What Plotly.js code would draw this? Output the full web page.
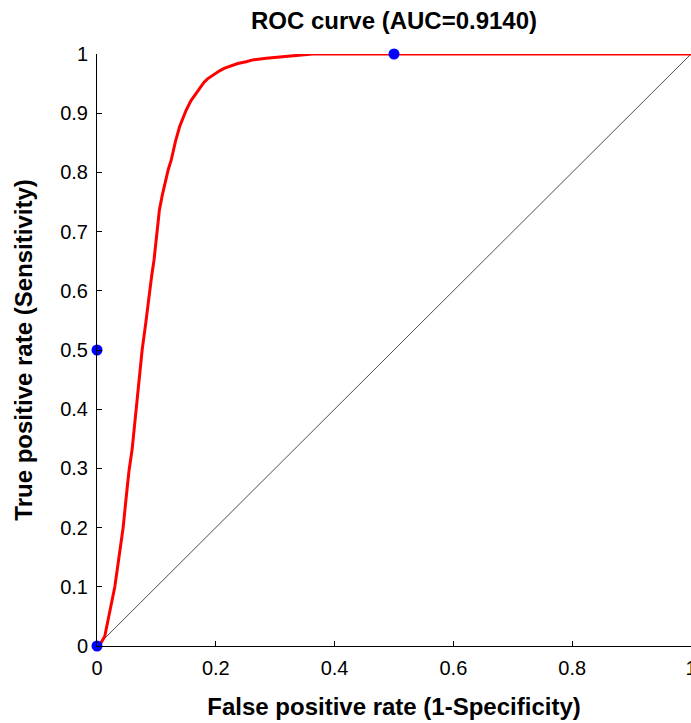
<!DOCTYPE html>
<html>
<head>
<meta charset="utf-8">
<script src="https://cdn.plot.ly/plotly-3.0.1.min.js"></script>
<style>html,body{margin:0;padding:0;background:#fff;overflow:hidden}</style>
</head>
<body>
<div id="chart" style="width:691px;height:723px"></div>
<script>
// ROC curve values
const rocFPR = [0, 0.006, 0.013, 0.02, 0.025, 0.03, 0.037, 0.044, 0.049, 0.054, 0.059, 0.063, 0.067, 0.072, 0.076, 0.082, 0.087, 0.092, 0.096, 0.100, 0.105, 0.110, 0.115, 0.120, 0.125, 0.132, 0.139, 0.145, 0.150, 0.158, 0.167, 0.173, 0.180, 0.186, 0.192, 0.200, 0.207, 0.215, 0.223, 0.237, 0.251, 0.262, 0.285, 0.307, 0.335, 0.363, 0.5, 1];
const rocTPR = [0, 0.004, 0.016, 0.05, 0.075, 0.1, 0.15, 0.2, 0.25, 0.297, 0.331, 0.37, 0.41, 0.455, 0.5, 0.545, 0.59, 0.625, 0.652, 0.69, 0.736, 0.762, 0.785, 0.805, 0.821, 0.852, 0.877, 0.893, 0.905, 0.921, 0.934, 0.944, 0.952, 0.958, 0.962, 0.968, 0.972, 0.976, 0.979, 0.984, 0.987, 0.990, 0.993, 0.995, 0.998, 1, 1, 1];
const diagX = [0, 1];
const diagY = [0, 1];
const pointX = [0, 0, 0.5];
const pointY = [0, 0.5, 1];
const xTicks = [0, 0.2, 0.4, 0.6, 0.8, 1];
const yTicks = [0, 0.1, 0.2, 0.3, 0.4, 0.5, 0.6, 0.7, 0.8, 0.9, 1];
const titleText = 'ROC curve (AUC=0.9140)';
const xTitle = 'False positive rate (1-Specificity)';
const yTitle = 'True positive rate (Sensitivity)';

const traces = [
  {x: diagX, y: diagY, mode: 'lines', line: {color: '#000', width: 0.7}, hoverinfo: 'skip', cliponaxis: false},
  {x: rocFPR, y: rocTPR, mode: 'lines', line: {color: '#ff0000', width: 3}, cliponaxis: false},
  {x: pointX, y: pointY, mode: 'markers', marker: {color: '#0000ff', size: 11}, cliponaxis: false}
];

const fam = '"Liberation Sans", Arial, sans-serif';
const axisFont = {family: fam, size: 20, color: '#000'};
const layout = {
  width: 691, height: 723,
  margin: {l: 97, r: 0, t: 54, b: 77, pad: 0},
  paper_bgcolor: '#fff', plot_bgcolor: '#fff',
  showlegend: false,
  title: {text: '<b>' + titleText + '</b>', xref: 'paper', x: 0.5, xanchor: 'center', yref: 'container', y: 0.972, yanchor: 'middle',
          font: {family: fam, size: 24, color: '#000'}},
  xaxis: {range: [0, 1], tickvals: xTicks, ticktext: xTicks.map(String), ticks: 'inside', ticklen: 5, tickcolor: '#000',
          showline: true, linecolor: '#000', linewidth: 1, showgrid: false, zeroline: false, mirror: false,
          tickfont: axisFont, ticklabelstandoff: 4, ticklabeloverflow: 'allow',
          title: {text: '<b>' + xTitle + '</b>', font: {family: fam, size: 24, color: '#000'}, standoff: 20}},
  yaxis: {range: [0, 1], tickvals: yTicks, ticktext: yTicks.map(String), ticks: 'inside', ticklen: 5, tickcolor: '#000',
          showline: true, linecolor: '#000', linewidth: 1, showgrid: false, zeroline: false, mirror: false,
          tickfont: axisFont, ticklabelstandoff: 4, ticklabeloverflow: 'allow',
          title: {text: '<b>' + yTitle + '</b>', font: {family: fam, size: 24, color: '#000'}, standoff: 20}}
};
Plotly.newPlot('chart', traces, layout, {displayModeBar: false, staticPlot: true});
</script>
</body>
</html>
